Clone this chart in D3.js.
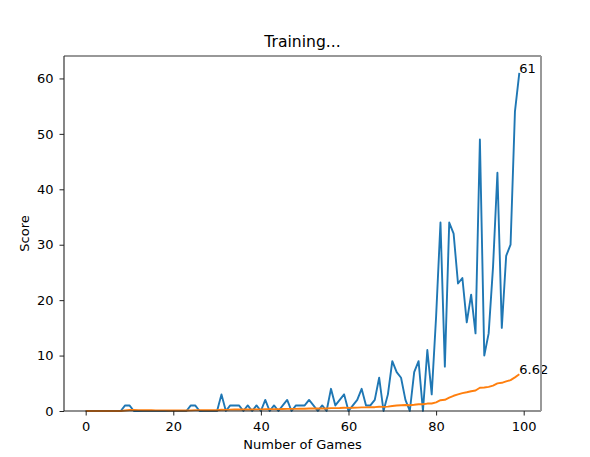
<!DOCTYPE html>
<html>
<head>
<meta charset="utf-8">
<script src="https://cdnjs.cloudflare.com/ajax/libs/d3/7.8.5/d3.min.js"></script>
<style>
  body { margin: 0; background: #fff; }
  text { font-family: "DejaVu Sans", sans-serif; fill: #000; }
</style>
</head>
<body>
<div id="chart"></div>
<script>
// score of each game
var games = d3.range(0, 100);
var scores = [
  0, 0, 0, 0, 0, 0, 0, 0, 0, 1,
  1, 0, 0, 0, 0, 0, 0, 0, 0, 0,
  0, 0, 0, 0, 1, 1, 0, 0, 0, 0,
  0, 3, 0, 1, 1, 1, 0, 1, 0, 1,
  0, 2, 0, 1, 0, 1, 2, 0, 1, 1,
  1, 2, 1, 0, 1, 0, 4, 1, 2, 3,
  0, 1, 2, 4, 1, 1, 2, 6, 0, 3,
  9, 7, 6, 2, 0, 7, 9, 0, 11, 3,
  17, 34, 8, 34, 32, 23, 24, 16, 21, 14,
  49, 10, 14, 26, 43, 15, 28, 30, 54, 61
];
// mean score line
var meanScores = [
  0, 0, 0, 0, 0, 0, 0, 0, 0, 0.10,
  0.18, 0.17, 0.15, 0.14, 0.13, 0.13, 0.12, 0.11, 0.11, 0.10,
  0.10, 0.09, 0.09, 0.08, 0.12, 0.15, 0.15, 0.14, 0.14, 0.13,
  0.13, 0.22, 0.21, 0.24, 0.26, 0.28, 0.27, 0.29, 0.28, 0.30,
  0.29, 0.33, 0.33, 0.34, 0.33, 0.35, 0.38, 0.38, 0.39, 0.40,
  0.41, 0.44, 0.45, 0.44, 0.45, 0.45, 0.51, 0.52, 0.54, 0.58,
  0.57, 0.58, 0.60, 0.66, 0.66, 0.67, 0.69, 0.76, 0.75, 0.79,
  0.90, 0.99, 1.05, 1.07, 1.05, 1.13, 1.23, 1.22, 1.34, 1.36,
  1.56, 1.95, 2.02, 2.40, 2.75, 2.99, 3.23, 3.38, 3.57, 3.69,
  4.19, 4.25, 4.35, 4.59, 4.99, 5.09, 5.33, 5.58, 6.07, 6.62
];
var xTicks = [0, 20, 40, 60, 80, 100];
var yTicks = [0, 10, 20, 30, 40, 50, 60];

var W = 590, H = 457;
var mLeft = 64, mRight = 541, mTop = 56, mBottom = 411;
var fs = "13px";

var svg = d3.select("#chart").append("svg")
  .attr("width", W).attr("height", H);

// matplotlib style 5% margins on x, y starts at 0
var x = d3.scaleLinear().domain([-4.95, 103.95]).range([mLeft, mRight]);
var y = d3.scaleLinear().domain([0, 64.05]).range([mBottom, mTop]);

var plot = svg.append("g");

var line = function (vals) {
  return d3.line()
    .x(function (d, i) { return x(games[i]); })
    .y(function (d) { return y(d); })(vals);
};

plot.append("path")
  .attr("d", line(scores))
  .attr("fill", "none")
  .attr("stroke", "#1f77b4")
  .attr("stroke-width", 1.9)
  .attr("stroke-linejoin", "round");

plot.append("path")
  .attr("d", line(meanScores))
  .attr("fill", "none")
  .attr("stroke", "#ff7f0e")
  .attr("stroke-width", 1.9)
  .attr("stroke-linejoin", "round");

// last value labels
var last = games.length - 1;
svg.append("text")
  .attr("x", x(games[last])).attr("y", y(scores[last]))
  .style("font-size", fs)
  .text(scores[last]);
svg.append("text")
  .attr("x", x(games[last])).attr("y", y(meanScores[last]))
  .style("font-size", fs)
  .text(meanScores[last].toFixed(2));

// axes
var xAxis = d3.axisBottom(x).tickValues(xTicks).tickSizeOuter(0).tickSize(4.5).tickPadding(6);
var yAxis = d3.axisLeft(y).tickValues(yTicks).tickSizeOuter(0).tickSize(4.5).tickPadding(6);

var gx = svg.append("g").attr("transform", "translate(0," + mBottom + ")").call(xAxis);
var gy = svg.append("g").attr("transform", "translate(" + mLeft + ",0)").call(yAxis);
[gx, gy].forEach(function (g) {
  g.select(".domain").remove();
  g.selectAll("line").attr("stroke", "#222").attr("stroke-width", 1);
  g.selectAll("text").style("font-size", fs).style("font-family", "DejaVu Sans, sans-serif").attr("fill", "#222");
});

// spines
svg.append("line").attr("x1", mLeft).attr("x2", mRight).attr("y1", mBottom).attr("y2", mBottom)
  .attr("stroke", "#222").attr("stroke-width", 1.1);
svg.append("line").attr("x1", mLeft).attr("x2", mLeft).attr("y1", mTop).attr("y2", mBottom)
  .attr("stroke", "#222").attr("stroke-width", 1.1);
svg.append("line").attr("x1", mLeft).attr("x2", mRight).attr("y1", mTop).attr("y2", mTop)
  .attr("stroke", "#333").attr("stroke-width", 1.1);
svg.append("line").attr("x1", mRight).attr("x2", mRight).attr("y1", mTop).attr("y2", mBottom)
  .attr("stroke", "#999").attr("stroke-width", 2);

// titles
svg.append("text")
  .attr("x", (mLeft + mRight) / 2).attr("y", 47)
  .attr("text-anchor", "middle")
  .style("font-size", "15.6px")
  .text("Training...");

svg.append("text")
  .attr("x", (mLeft + mRight) / 2).attr("y", 449)
  .attr("text-anchor", "middle")
  .style("font-size", fs)
  .text("Number of Games");

svg.append("text")
  .attr("transform", "translate(29," + ((mTop + mBottom) / 2) + ") rotate(-90)")
  .attr("text-anchor", "middle")
  .style("font-size", fs)
  .text("Score");
</script>
</body>
</html>
